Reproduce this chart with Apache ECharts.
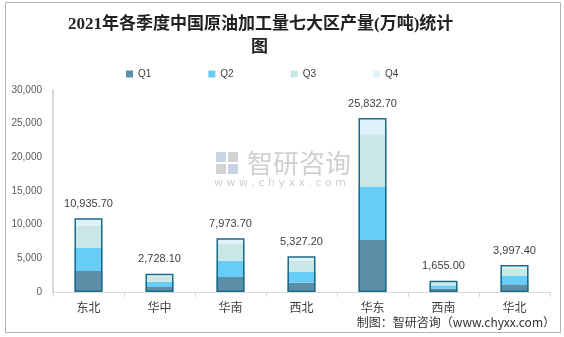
<!DOCTYPE html>
<html>
<head>
<meta charset="utf-8">
<script src="https://cdn.jsdelivr.net/npm/echarts@6/dist/echarts.min.js"></script>
<style>
  html, body { margin: 0; padding: 0; background: #fff; }
  #chart { width: 564px; height: 337px; }
</style>
</head>
<body>
<div id="chart"></div>
<script>
// 七大区原油加工量（万吨），按季度
const regions = ['东北', '华中', '华南', '西北', '华东', '西南', '华北'];
const q1 = [3120, 740, 2230, 1380, 7720, 480, 1140];
const q2 = [3450, 790, 2420, 1640, 7920, 500, 1230];
const q3 = [3300, 790, 2480, 1680, 7790, 470, 1140];
const q4 = [1065.7, 408.1, 843.7, 627.2, 2402.7, 205, 487.4];
const totals = [10935.7, 2728.1, 7973.7, 5327.2, 25832.7, 1655.0, 3997.4];
const quarterNames = ['Q1', 'Q2', 'Q3', 'Q4'];
const titleLines = ['2021年各季度中国原油加工量七大区产量(万吨)统计', '图'];

const colors = ['#5b8fa7', '#67cdf6', '#c8e7e5', '#e0f3fb'];
const edge = '#1f6c8a';

const fmt = (v, d) => v.toLocaleString('en-US', { minimumFractionDigits: d, maximumFractionDigits: d });

const chart = echarts.init(document.getElementById('chart'));

const titleStyle = {
  fontFamily: "'Liberation Serif', 'Noto Sans CJK SC'",
  fontSize: 17,
  fontWeight: 'bold',
  color: '#222'
};

const stackSeries = [q1, q2, q3, q4].map((arr, i) => ({
  name: quarterNames[i],
  type: 'bar',
  stack: 'total',
  barWidth: 28,
  barGap: '-100%',
  data: arr,
  itemStyle: { color: colors[i] },
  z: 2
}));

chart.setOption({
  animation: false,
  title: [
    { text: titleLines[0], left: 63, top: 11, padding: 5, textStyle: titleStyle },
    { text: titleLines[1], left: 246, top: 34, padding: 5, textStyle: titleStyle }
  ],
  legend: {
    data: quarterNames,
    top: 64,
    left: 121,
    itemWidth: 7,
    itemHeight: 7,
    itemGap: 57,
    icon: 'rect',
    textStyle: { fontSize: 10, color: '#404040', fontFamily: "'Liberation Sans', Arial" }
  },
  grid: { left: 53, right: 14, top: 90, bottom: 45 },
  xAxis: {
    type: 'category',
    data: regions,
    axisLine: { lineStyle: { color: '#d9d9d9', width: 1 } },
    axisTick: { show: true, length: 5, lineStyle: { color: '#d9d9d9' } },
    axisLabel: { color: '#404040', fontSize: 12, margin: 9, fontFamily: "'Noto Sans CJK SC'" }
  },
  yAxis: {
    type: 'value',
    min: 0,
    max: 30000,
    interval: 5000,
    axisLine: { show: true, lineStyle: { color: '#d9d9d9', width: 2 } },
    axisTick: { show: false },
    splitLine: { show: false },
    axisLabel: {
      color: '#595959',
      fontSize: 10,
      margin: 11,
      fontFamily: "'Liberation Sans', Arial",
      formatter: v => fmt(v, 0)
    }
  },
  series: stackSeries.concat([{
    name: '合计',
    type: 'bar',
    barWidth: 28,
    barGap: '-100%',
    data: totals,
    z: 3,
    itemStyle: { color: 'rgba(0,0,0,0)', borderColor: edge, borderWidth: 1.5 },
    label: {
      show: true,
      position: 'top',
      distance: 9,
      color: '#404040',
      fontSize: 11,
      fontFamily: "'Liberation Sans', Arial",
      formatter: p => fmt(p.value, 2)
    }
  }]),
  graphic: [
    {
      type: 'rect',
      shape: { x: 5.5, y: 2.5, width: 555, height: 330 },
      style: { fill: 'none', stroke: '#b4b4b4', lineWidth: 1 },
      silent: true
    },
    // 水印
    {
      type: 'group',
      left: 214,
      top: 150,
      silent: true,
      z: 0,
      children: [
        { type: 'rect', shape: { x: 0, y: 0, width: 10, height: 10 }, style: { fill: '#c9d4e6' } },
        { type: 'rect', shape: { x: 12, y: 0, width: 10, height: 10 }, style: { fill: '#d3d3d3' } },
        { type: 'rect', shape: { x: 0, y: 12, width: 10, height: 10 }, style: { fill: '#d3d3d3' } },
        { type: 'rect', shape: { x: 12, y: 12, width: 10, height: 10 }, style: { fill: '#c9d4e6' } },
        {
          type: 'text', x: 31, y: -2,
          style: { text: '智研咨询', fontSize: 26, fill: '#d0d0d0', fontFamily: "'Noto Sans CJK SC'" }
        },
        {
          type: 'text', x: -2, y: 26,
          style: { text: 'w w w . c h y x x . c o m', fontSize: 11, fill: '#cfcfcf', fontFamily: "'DejaVu Sans'" }
        }
      ]
    },
    {
      type: 'text',
      right: 9,
      top: 316,
      style: {
        text: '制图：智研咨询（www.chyxx.com）',
        fontSize: 12,
        fill: '#333',
        fontFamily: "'Noto Sans CJK SC'"
      },
      silent: true
    }
  ]
});
</script>
</body>
</html>
